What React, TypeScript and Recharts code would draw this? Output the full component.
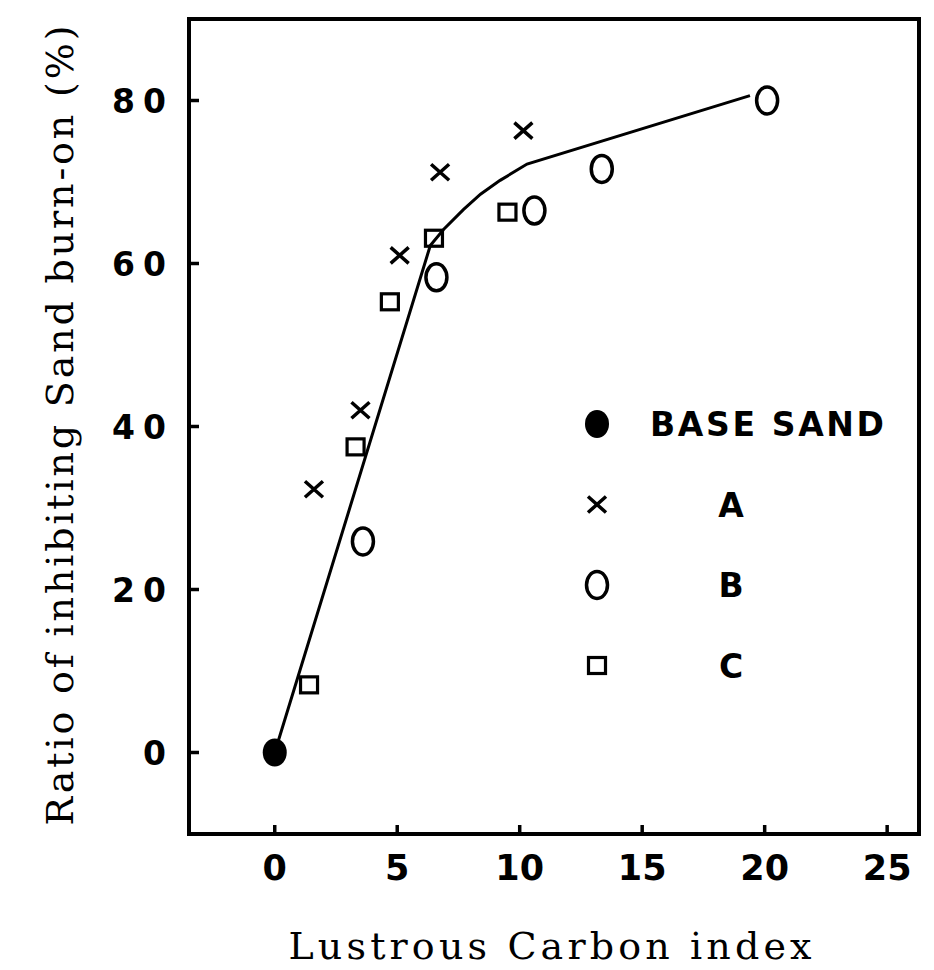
import { ScatterChart, Scatter, XAxis, YAxis, ReferenceArea, Legend } from 'recharts';

const X_TICKS = [0, 5, 10, 15, 20, 25];
const Y_TICKS = [0, 20, 40, 60, 80];

const BASE_SAND = [{ x: 0, y: 0 }];
const SAND_A = [
  { x: 1.6, y: 32.3 },
  { x: 3.5, y: 42 },
  { x: 5.1, y: 61 },
  { x: 6.75, y: 71.2 },
  { x: 10.15, y: 76.3 },
];
const SAND_B = [
  { x: 3.6, y: 25.9 },
  { x: 6.6, y: 58.3 },
  { x: 10.6, y: 66.5 },
  { x: 13.35, y: 71.6 },
  { x: 20.1, y: 80 },
];
const SAND_C = [
  { x: 1.4, y: 8.3 },
  { x: 3.3, y: 37.5 },
  { x: 4.7, y: 55.3 },
  { x: 6.5, y: 63.1 },
  { x: 9.5, y: 66.3 },
];
// hand-drawn trend curve
const TREND = [
  { x: 0, y: 0 },
  { x: 6.35, y: 62.2 },
  { x: 6.9, y: 64.2 },
  { x: 7.7, y: 66.6 },
  { x: 8.4, y: 68.5 },
  { x: 9.2, y: 70.2 },
  { x: 10.3, y: 72.2 },
  { x: 19.4, y: 80.6 },
];
const LEGEND_ORDER = ['BASE SAND', 'A', 'B', 'C'];

const INK = '#000';
const SANS = '"DejaVu Sans", sans-serif';
const SERIF = '"DejaVu Serif", serif';

const Dot = ({ cx, cy }: any) => <ellipse cx={cx} cy={cy} rx={12} ry={14} fill={INK} />;
const Cross = ({ cx, cy }: any) => (
  <path
    d={`M${cx - 9},${cy - 8}L${cx + 9},${cy + 8}M${cx + 9},${cy - 8}L${cx - 9},${cy + 8}`}
    stroke={INK}
    strokeWidth={3.5}
    fill="none"
  />
);
const Ring = ({ cx, cy }: any) => (
  <ellipse cx={cx} cy={cy} rx={10.5} ry={13.5} fill="none" stroke={INK} strokeWidth={3.5} />
);
const Square = ({ cx, cy }: any) => (
  <rect x={cx - 8.5} y={cy - 8} width={17} height={16} fill="none" stroke={INK} strokeWidth={3.2} />
);
const Nothing = () => <g />;

const SYMBOLS: Record<string, any> = { 'BASE SAND': Dot, A: Cross, B: Ring, C: Square };

const XTick = ({ x, y, payload }: any) => (
  <text x={x} y={y} dy={46} textAnchor="middle" fontFamily={SANS} fontWeight="bold" fontSize={35} fill={INK}>
    {payload?.value}
  </text>
);

const YTick = ({ x, y, payload }: any) => (
  <text x={x} y={y} dy={12} textAnchor="end" fontFamily={SANS} fontWeight="bold" fontSize={33} letterSpacing={8} fill={INK}>
    {payload?.value}
  </text>
);

const LegendBox = () => (
  <svg width={330} height={320}>
    {LEGEND_ORDER.map((name, i) => {
      const Sym = SYMBOLS[name];
      const cy = 40 + i * 80.5;
      const wide = name.length > 1;
      return (
        <g key={name}>
          <Sym cx={27} cy={cy} />
          <text
            x={wide ? 80 : 161}
            y={cy + 12}
            textAnchor={wide ? 'start' : 'middle'}
            fontFamily={SANS}
            fontWeight="bold"
            fontSize={33}
            textLength={wide ? 234 : undefined}
            lengthAdjust="spacing"
            fill={INK}
          >
            {name}
          </text>
        </g>
      );
    })}
  </svg>
);

const XTitle = (props: any) => {
  const vb = props.viewBox || { x: 189, y: 834, width: 731, height: 100 };
  return (
    <text
      x={vb.x + vb.width / 2 - 4}
      y={vb.y + 125}
      textAnchor="middle"
      fontFamily={SERIF}
      fontSize={38}
      textLength={523}
      lengthAdjust="spacing"
      fill={INK}
    >
      Lustrous Carbon index
    </text>
  );
};

const YTitle = (props: any) => {
  const vb = props.viewBox || { x: 89, y: 20, width: 100, height: 814 };
  const cx = vb.x - 16;
  const cy = vb.y + vb.height / 2 - 1;
  return (
    <text
      x={cx}
      y={cy}
      transform={`rotate(-90, ${cx}, ${cy})`}
      textAnchor="middle"
      fontFamily={SERIF}
      fontSize={38}
      textLength={800}
      lengthAdjust="spacing"
      fill={INK}
    >
      Ratio of inhibiting Sand burn-on (%)
    </text>
  );
};

export default function App() {
  return (
    <div style={{ position: 'absolute', left: 0, top: 0, background: '#fff' }}>
      <ScatterChart width={934} height={970} margin={{ top: 19, right: 15, bottom: 36, left: 89 }}>
        <XAxis
          type="number"
          dataKey="x"
          domain={[-3.5, 26.3]}
          ticks={X_TICKS}
          allowDataOverflow
          height={100}
          axisLine={false}
          tickSize={-9}
          tickMargin={9}
          tickLine={{ stroke: INK, strokeWidth: 3.5 }}
          tick={<XTick />}
          label={<XTitle />}
        />
        <YAxis
          type="number"
          dataKey="y"
          domain={[-10, 90]}
          ticks={Y_TICKS}
          allowDataOverflow
          width={100}
          axisLine={false}
          tickSize={-10}
          tickMargin={25}
          tickLine={{ stroke: INK, strokeWidth: 3.5 }}
          tick={<YTick />}
          label={<YTitle />}
        />
        <ReferenceArea x1={-3.5} x2={26.3} y1={-10} y2={90} fill="none" stroke={INK} strokeWidth={4} />
        <Legend
          layout="vertical"
          align="center"
          verticalAlign="middle"
          content={<LegendBox />}
          wrapperStyle={{ position: 'absolute', left: 570, top: 384, width: 330, height: 320 }}
        />
        <Scatter data={TREND} line={{ stroke: INK, strokeWidth: 3 }} shape={<Nothing />} legendType="none" isAnimationActive={false} />
        <Scatter name="BASE SAND" data={BASE_SAND} shape={<Dot />} isAnimationActive={false} />
        <Scatter name="A" data={SAND_A} shape={<Cross />} isAnimationActive={false} />
        <Scatter name="B" data={SAND_B} shape={<Ring />} isAnimationActive={false} />
        <Scatter name="C" data={SAND_C} shape={<Square />} isAnimationActive={false} />
      </ScatterChart>
    </div>
  );
}
